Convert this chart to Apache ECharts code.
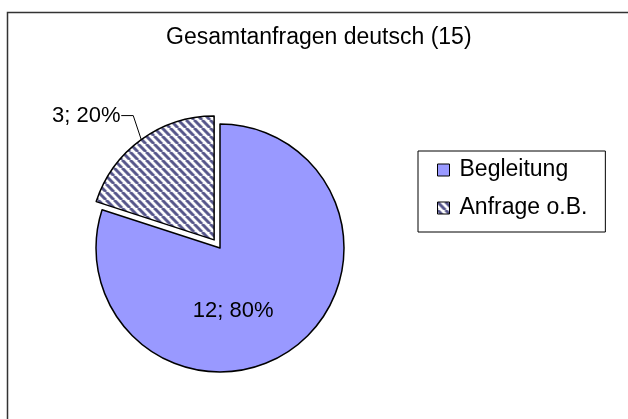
<!DOCTYPE html>
<html>
<head>
<meta charset="utf-8">
<script src="https://cdn.jsdelivr.net/npm/echarts@6/dist/echarts.min.js"></script>
<style>
  html, body { margin: 0; padding: 0; background: #fff; }
  #chart { width: 628px; height: 419px; }
</style>
</head>
<body>
<div id="chart"></div>
<script>
// Daten
const chartTitle = 'Gesamtanfragen deutsch (15)';
const categories = ['Begleitung', 'Anfrage o.B.'];
const values = [12, 3];
const explodedIndex = 1; // herausgezogenes Segment

const FONT = '"Liberation Sans", Arial, sans-serif';

// Schraffur-Muster fuer "Anfrage o.B."
function makeHatch() {
  const c = document.createElement('canvas');
  c.width = 8;
  c.height = 8;
  const ctx = c.getContext('2d');
  ctx.fillStyle = '#fff';
  ctx.fillRect(0, 0, 8, 8);
  ctx.strokeStyle = '#55558a';
  ctx.lineWidth = 3;
  [-8, 0, 8].forEach(function (x) {
    ctx.beginPath();
    ctx.moveTo(x, 0);
    ctx.lineTo(x + 8, 8);
    ctx.stroke();
  });
  return c;
}

const sliceColors = ['#9999ff', { image: makeHatch(), repeat: 'repeat' }];

const pieData = categories.map(function (name, i) {
  const item = {
    name: name,
    value: values[i],
    itemStyle: { color: sliceColors[i] }
  };
  if (i === explodedIndex) {
    item.selected = true;
    item.label = { position: 'outside' };
    item.labelLine = { show: true };
  } else {
    item.label = { position: 'inside' };
    item.labelLine = { show: false };
  }
  return item;
});

const chart = echarts.init(document.getElementById('chart'), null, { renderer: 'canvas' });

chart.setOption({
  animation: false,
  backgroundColor: '#fff',
  textStyle: { fontFamily: FONT },
  title: {
    text: chartTitle,
    left: 166,
    top: 26,
    padding: 0,
    textStyle: { fontFamily: FONT, fontSize: 23, fontWeight: 'normal', color: '#000' }
  },
  legend: {
    orient: 'vertical',
    left: 418,
    top: 151,
    padding: [7, 18, 12, 19],
    itemGap: 14,
    itemWidth: 12,
    itemHeight: 12,
    icon: 'rect',
    borderColor: '#000',
    borderWidth: 1,
    backgroundColor: '#fff',
    selectedMode: false,
    itemStyle: { borderColor: '#000', borderWidth: 1 },
    textStyle: { fontFamily: FONT, fontSize: 23, color: '#000', lineHeight: 24, padding: [0, 0, 0, 5] },
    data: categories
  },
  graphic: [{
    type: 'rect',
    silent: true,
    z: -1,
    shape: { x: 7.5, y: 12.5, width: 700, height: 500 },
    style: { fill: null, stroke: '#333', lineWidth: 1.5 }
  }],
  series: [{
    type: 'pie',
    center: [220, 248],
    radius: 124,
    startAngle: 90,
    clockwise: true,
    selectedMode: 'single',
    selectedOffset: 10,
    avoidLabelOverlap: false,
    emphasis: { disabled: true },
    itemStyle: { borderColor: '#000', borderWidth: 1.5 },
    select: { itemStyle: { borderColor: '#000', borderWidth: 1.5 } },
    label: {
      formatter: '{c}; {d}%',
      fontFamily: FONT,
      fontSize: 22,
      color: '#000'
    },
    labelLine: {
      length: 20,
      length2: 10,
      lineStyle: { color: '#000', width: 1 }
    },
    labelLayout: function (p) {
      if (p.dataIndex === explodedIndex && p.labelLinePoints) {
        const a = p.labelLinePoints[0];
        const b = [a[0] - 8, a[1] - 24];
        const c = [b[0] - 12, b[1]];
        return {
          dx: 6,
          dy: -7,
          labelLinePoints: [a, b, c]
        };
      }
      if (p.dataIndex !== explodedIndex) {
        return { dx: -25, dy: 10 };
      }
    },
    data: pieData
  }]
});
</script>
</body>
</html>
